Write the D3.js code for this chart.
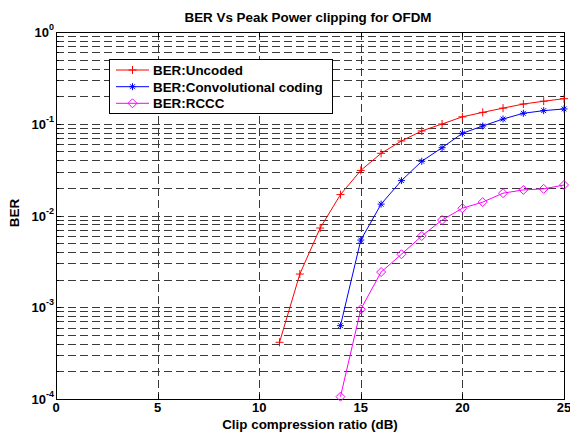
<!DOCTYPE html>
<html>
<head>
<meta charset="utf-8">
<script src="https://cdn.jsdelivr.net/npm/d3@7"></script>
<style>
  body { margin: 0; background: #fff; }
  text { font-family: "Liberation Sans", Arial, Helvetica, sans-serif; font-weight: bold; }
</style>
</head>
<body>
<svg id="chart" width="570" height="432"></svg>
<script>
// ---- data ----
const xUncoded = [11, 12, 13, 14, 15, 16, 17, 18, 19, 20, 21, 22, 23, 24, 25];
const berUncoded = [4.15e-4, 2.3e-3, 7.3e-3, 0.0169, 0.031, 0.0476, 0.0649, 0.0834, 0.0994, 0.119, 0.133, 0.148, 0.164, 0.176, 0.1875];
const xConv = [14, 15, 16, 17, 18, 19, 20, 21, 22, 23, 24, 25];
const berConv = [6.3e-4, 5.4e-3, 0.0133, 0.024, 0.039, 0.0548, 0.0787, 0.0945, 0.1126, 0.130, 0.139, 0.145];
const xRCCC = [14, 15, 16, 17, 18, 19, 20, 21, 22, 23, 24, 25];
const berRCCC = [1.06e-4, 9.5e-4, 2.42e-3, 3.78e-3, 5.98e-3, 8.93e-3, 0.012, 0.014, 0.0175, 0.019, 0.0195, 0.0215];
const seriesNames = ["BER:Uncoded", "BER:Convolutional coding", "BER:RCCC"];
const xTicks = [0, 5, 10, 15, 20, 25];
const yTickExps = [-4, -3, -2, -1, 0];
const titleText = "BER Vs Peak Power clipping for OFDM";
const xLabelText = "Clip compression ratio (dB)";
const yLabelText = "BER";

// ---- layout ----
const L = 56, R = 564, T = 32, B = 399;
const svg = d3.select("#chart");
const x = d3.scaleLinear().domain([0, 25]).range([L, R]);
const y = d3.scaleLog().domain([1e-4, 1]).range([B, T]);

// grid
const gridColor = "#3a3a3a";
const dash = "8,4";
const gGrid = svg.append("g");
const yGridVals = [];
for (let k = -4; k < 0; k++) for (let m = 1; m <= 9; m++) yGridVals.push(m * Math.pow(10, k));
gGrid.selectAll("line.hy").data(yGridVals).enter().append("line")
  .attr("x1", L).attr("x2", R)
  .attr("y1", d => Math.round(y(d)) + 0.5).attr("y2", d => Math.round(y(d)) + 0.5)
  .attr("stroke", gridColor).attr("stroke-width", 1).attr("stroke-dasharray", dash);
gGrid.selectAll("line.vx").data(xTicks.slice(1, -1)).enter().append("line")
  .attr("x1", d => Math.round(x(d)) + 0.5).attr("x2", d => Math.round(x(d)) + 0.5)
  .attr("y1", T).attr("y2", B)
  .attr("stroke", gridColor).attr("stroke-width", 1).attr("stroke-dasharray", dash);

// ticks (inward, all four sides)
const gTicks = svg.append("g").attr("stroke", "#000").attr("stroke-width", 1);
xTicks.forEach(v => {
  const px = Math.round(x(v)) + 0.5;
  gTicks.append("line").attr("x1", px).attr("x2", px).attr("y1", B).attr("y2", B - 5);
  gTicks.append("line").attr("x1", px).attr("x2", px).attr("y1", T).attr("y2", T + 5);
});
yGridVals.concat([1]).forEach(v => {
  const py = Math.round(y(v)) + 0.5;
  const len = Math.abs(Math.log10(v) - Math.round(Math.log10(v))) < 1e-9 ? 5 : 3;
  gTicks.append("line").attr("x1", L).attr("x2", L + len).attr("y1", py).attr("y2", py);
  gTicks.append("line").attr("x1", R).attr("x2", R - len).attr("y1", py).attr("y2", py);
});

// axes box
svg.append("rect").attr("x", L + 0.5).attr("y", T + 0.5).attr("width", R - L).attr("height", B - T)
  .attr("fill", "none").attr("stroke", "#000").attr("stroke-width", 1);

// x tick labels
svg.append("g").selectAll("text").data(xTicks).enter().append("text")
  .attr("x", d => x(d)).attr("y", 412).attr("text-anchor", "middle")
  .attr("font-size", "13px").text(d => d);

// y tick labels
const yl = svg.append("g").selectAll("text").data(yTickExps).enter().append("text")
  .attr("x", 54).attr("y", d => y(Math.pow(10, d)) + 5).attr("text-anchor", "end")
  .attr("font-size", "13px");
yl.append("tspan").text("10");
yl.append("tspan").attr("dy", -7).attr("font-size", "9px").text(d => d);

// title & labels
svg.append("text").attr("x", 308).attr("y", 22).attr("text-anchor", "middle")
  .attr("font-size", "13.4px").text(titleText);
svg.append("text").attr("x", 310).attr("y", 429).attr("text-anchor", "middle")
  .attr("font-size", "13.4px").text(xLabelText);
svg.append("text").attr("transform", "translate(19,213) rotate(-90)").attr("text-anchor", "middle")
  .attr("font-size", "13.4px").text(yLabelText);

// markers
function plus(g, s) { g.append("path").attr("d", `M${-s},0H${s}M0,${-s}V${s}`); }
function star(g, s) {
  const d = s * 0.7;
  g.append("path").attr("d", `M${-s},0H${s}M0,${-s}V${s}M${-d},${-d}L${d},${d}M${-d},${d}L${d},${-d}`);
}
function diamond(g, s) { g.append("path").attr("d", `M0,${-s}L${s},0L0,${s}L${-s},0Z`).attr("fill", "none"); }

const series = [
  { xs: xUncoded, ys: berUncoded, color: "#ff0000", marker: plus, size: 4 },
  { xs: xConv, ys: berConv, color: "#0000ff", marker: star, size: 3.5 },
  { xs: xRCCC, ys: berRCCC, color: "#ff00ff", marker: diamond, size: 4.5 }
];
const line = d3.line().x(d => x(d[0])).y(d => y(d[1]));
series.forEach(s => {
  const pts = s.xs.map((xv, i) => [xv, s.ys[i]]);
  svg.append("path").datum(pts).attr("d", line).attr("fill", "none")
    .attr("stroke", s.color).attr("stroke-width", 1);
  const gm = svg.append("g").attr("stroke", s.color).attr("stroke-width", 1).attr("fill", "none");
  pts.forEach(p => {
    const g = gm.append("g").attr("transform", `translate(${x(p[0])},${y(p[1])})`);
    s.marker(g, s.size);
  });
});

// legend
const lg = svg.append("g");
lg.append("rect").attr("x", 109.5).attr("y", 59.5).attr("width", 223).attr("height", 54)
  .attr("fill", "#fff").attr("stroke", "#000").attr("stroke-width", 1);
const legY = [70, 86.7, 103.3];
series.forEach((s, i) => {
  lg.append("line").attr("x1", 116).attr("x2", 149).attr("y1", legY[i]).attr("y2", legY[i])
    .attr("stroke", s.color).attr("stroke-width", 1);
  const g = lg.append("g").attr("stroke", s.color).attr("stroke-width", 1).attr("fill", "none")
    .attr("transform", `translate(132.5,${legY[i]})`);
  s.marker(g, s.size);
  lg.append("text").attr("x", 153).attr("y", legY[i] + 5).attr("font-size", "13.4px").text(seriesNames[i]);
});
</script>
</body>
</html>
